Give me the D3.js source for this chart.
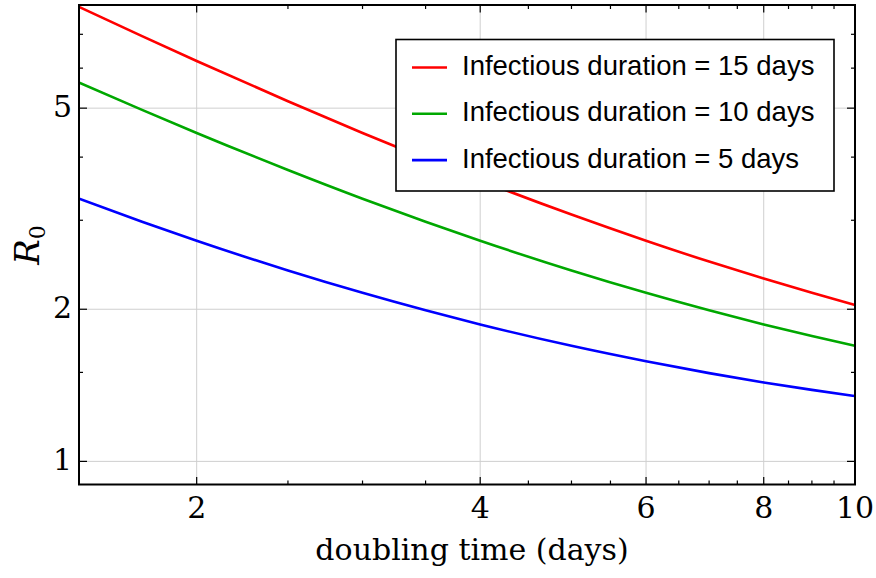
<!DOCTYPE html>
<html><head><meta charset="utf-8">
<script src="https://cdn.jsdelivr.net/npm/d3@7"></script>
<style>body{margin:0;background:#fff}</style>
</head><body>
<svg id="chart" width="876" height="578"></svg>
<script>
// ---- data ----
const doublingTime = [1.5, 1.75, 2, 2.5, 3, 3.5, 4, 5, 6, 7, 8, 9, 10];
const r0_15days = [7.931, 6.941, 6.199, 5.159, 4.466, 3.971, 3.599, 3.079, 2.733, 2.485, 2.300, 2.155, 2.040];
const r0_10days = [5.621, 4.961, 4.466, 3.773, 3.310, 2.980, 2.733, 2.386, 2.155, 1.990, 1.866, 1.770, 1.693];
const r0_5days  = [3.310, 2.980, 2.733, 2.386, 2.155, 1.990, 1.866, 1.693, 1.578, 1.495, 1.433, 1.385, 1.347];
const seriesNames = ["Infectious duration = 15 days", "Infectious duration = 10 days", "Infectious duration = 5 days"];
const seriesColors = ["#ff0000", "#00a800", "#0000ff"];
const xMajorTicks = [2, 4, 6, 8, 10];
const xMinorTicks = [1.5, 2.5, 3, 3.5, 4.5, 5, 5.5, 6.5, 7, 7.5, 8.5, 9, 9.5];
const yMajorTicks = [1, 2, 5];
const yMinorTicks = [1.5, 3, 4, 6, 7];
const xLabel = "doubling time (days)";

const series = [r0_15days, r0_10days, r0_5days];

const svg = d3.select("#chart");
const L = 79, R = 855, T = 5, B = 484.5;
const x = d3.scaleLog().domain([1.5, 10]).range([L, R]);
const y = d3.scaleLog().domain([0.9, 8]).range([B, T]);

const serif = "'DejaVu Serif', serif";

// grid
const grid = svg.append("g").attr("stroke", "#cfcfcf").attr("stroke-width", 1);
grid.selectAll("line.gx").data(xMajorTicks.filter(d => d < 10)).join("line")
  .attr("x1", d => x(d)).attr("x2", d => x(d)).attr("y1", T).attr("y2", B);
grid.selectAll("line.gy").data(yMajorTicks).join("line")
  .attr("y1", d => y(d)).attr("y2", d => y(d)).attr("x1", L).attr("x2", R);

// curves
const line = d3.line().x(d => x(d[0])).y(d => y(d[1])).curve(d3.curveMonotoneX);
svg.append("clipPath").attr("id", "clip").append("rect")
  .attr("x", L).attr("y", T).attr("width", R - L).attr("height", B - T);
svg.append("g").attr("clip-path", "url(#clip)")
  .selectAll("path").data(series).join("path")
  .attr("d", s => line(doublingTime.map((t, i) => [t, s[i]])))
  .attr("fill", "none").attr("stroke", (d, i) => seriesColors[i]).attr("stroke-width", 2.6);

// ticks (inward, all four sides)
const tk = svg.append("g").attr("stroke", "#000").attr("stroke-width", 1.2);
function xt(vals, len) {
  vals.forEach(v => {
    tk.append("line").attr("x1", x(v)).attr("x2", x(v)).attr("y1", B).attr("y2", B - len);
    tk.append("line").attr("x1", x(v)).attr("x2", x(v)).attr("y1", T).attr("y2", T + len);
  });
}
function yt(vals, len) {
  vals.forEach(v => {
    tk.append("line").attr("y1", y(v)).attr("y2", y(v)).attr("x1", L).attr("x2", L + len);
    tk.append("line").attr("y1", y(v)).attr("y2", y(v)).attr("x1", R).attr("x2", R - len);
  });
}
xt(xMajorTicks.filter(d => d < 10), 7.5); xt(xMinorTicks, 4);
yt(yMajorTicks, 8); yt(yMinorTicks, 4);

// frame
svg.append("rect").attr("x", L).attr("y", T).attr("width", R - L).attr("height", B - T)
  .attr("fill", "none").attr("stroke", "#000").attr("stroke-width", 2);

// tick labels
svg.append("g").selectAll("text").data(xMajorTicks).join("text")
  .attr("x", d => x(d)).attr("y", 518).attr("text-anchor", "middle")
  .attr("font-family", serif).attr("font-size", 30).text(d => d);
svg.append("g").selectAll("text").data(yMajorTicks).join("text")
  .attr("x", 72).attr("y", d => y(d) + 9).attr("text-anchor", "end")
  .attr("font-family", serif).attr("font-size", 30).text(d => d);

// axis labels
svg.append("text").attr("x", 472).attr("y", 560).attr("text-anchor", "middle")
  .attr("font-family", serif).attr("font-size", 30).text(xLabel);
const yl = svg.append("text").attr("transform", "translate(39,245) rotate(-90)")
  .attr("text-anchor", "middle").attr("font-family", serif).attr("font-size", 34);
yl.append("tspan").attr("font-style", "italic").text("R");
yl.append("tspan").attr("font-size", 22).attr("dy", 6).text("0");

// legend
const lg = svg.append("g");
lg.append("rect").attr("x", 396).attr("y", 39.5).attr("width", 438).attr("height", 151.5)
  .attr("fill", "#fff").attr("stroke", "#000").attr("stroke-width", 1.6);
seriesNames.forEach((n, i) => {
  const by = 75 + i * 46.3;
  lg.append("line").attr("x1", 412).attr("x2", 447).attr("y1", by - 7.5).attr("y2", by - 7.5)
    .attr("stroke", seriesColors[i]).attr("stroke-width", 2.6);
  lg.append("text").attr("x", 462).attr("y", by).attr("font-family", "'Liberation Sans', Arial, sans-serif")
    .attr("font-size", 27.5).text(n);
});
</script>
</body></html>
